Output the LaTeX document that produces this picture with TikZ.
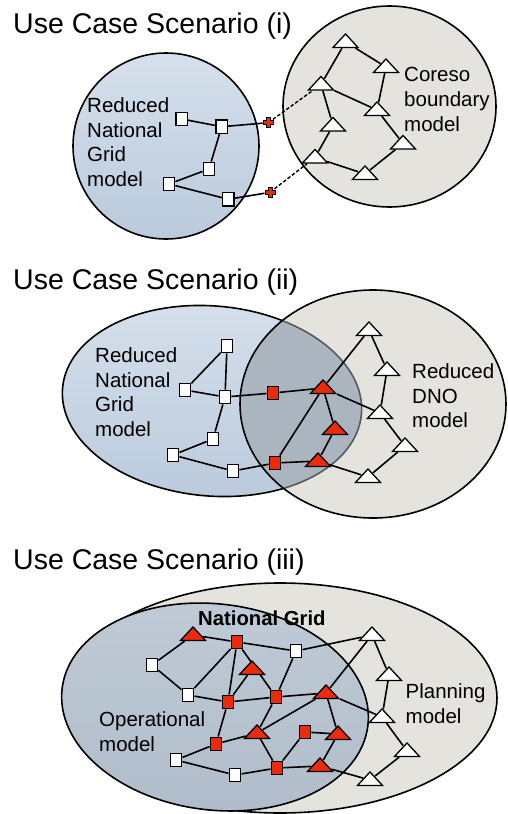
\documentclass[tikz,border=0pt]{standalone}
\usepackage{fontspec}
\setmainfont{Liberation Sans}
\usetikzlibrary{shapes.geometric}
\definecolor{nred}{HTML}{EC2A0C}
\definecolor{blueTop}{HTML}{D6E0EC}
\definecolor{blueBot}{HTML}{BACADC}
\definecolor{greyfill}{HTML}{E4E3DE}
\definecolor{overlapfill}{HTML}{ABB5C0}
\definecolor{deepTop}{HTML}{C0CBD7}
\definecolor{deepBot}{HTML}{B0BCC9}
\pgfdeclarelayer{back}
\pgfdeclarelayer{wires}
\pgfsetlayers{back,wires,main}

\begin{document}
\begin{tikzpicture}[x=1pt, y=-1pt,
    title/.style={anchor=base west, inner sep=0pt,
                  font=\fontsize{28.5}{34}\selectfont},
    lbl/.style={anchor=north west, inner sep=0pt, align=left,
                font=\fontsize{20.5}{24.8}\selectfont},
    bus/.style={draw=black, line width=1.4pt, fill=white, inner sep=0pt,
                minimum width=11.5pt, minimum height=13.5pt},
    rbus/.style={bus, fill=nred},
    tri/.style={isosceles triangle, isosceles triangle stretches,
                shape border rotate=90, draw=black, line width=1.3pt,
                fill=white, inner sep=0pt, minimum width=25pt, minimum height=13.5pt},
    rtri/.style={tri, fill=nred},
    plusbox/.style={circle, inner sep=0pt, minimum size=11pt},
    zone/.style={draw=black, line width=1.6pt},
    link/.style={line width=1.6pt},
    tie/.style={line width=1.4pt, dash pattern=on 3.5pt off 2pt},
  ]
  \useasboundingbox (0,0) rectangle (507,814);

  % --- model areas ---------------------------------------------------------
  \begin{pgfonlayer}{back}
    \fill[white] (0,0) rectangle (507,814);
    % (i)
    \filldraw[zone, top color=blueTop, bottom color=blueBot] (166,146) circle [radius=93];
    \filldraw[zone, fill=greyfill] (389.5,106.5) ellipse [x radius=106.5, y radius=100.5];
    % (ii)
    \filldraw[zone, top color=blueTop, bottom color=blueBot, rotate around={-5:(212,401)}]
      (212,401) ellipse [x radius=150, y radius=95];
    \fill[greyfill] (373,404) ellipse [x radius=133, y radius=114];
    \begin{scope}
      \clip (373,404) ellipse [x radius=133, y radius=114];
      \fill[overlapfill, rotate around={-5:(212,401)}] (212,401) ellipse [x radius=150, y radius=95];
      \draw[black!65, line width=1.6pt, rotate around={-5:(212,401)}]
        (212,401) ellipse [x radius=150, y radius=95];
    \end{scope}
    \draw[zone] (373,404) ellipse [x radius=133, y radius=114];
    % (iii)
    \filldraw[zone, fill=greyfill] (280,698) ellipse [x radius=217, y radius=115];
    \filldraw[zone, top color=deepTop, bottom color=deepBot, rotate around={-7:(215,707)}]
      (215,707) ellipse [x radius=154, y radius=103];
  \end{pgfonlayer}

  % --- titles and labels ---------------------------------------------------
  \node[title] (ti1) at (13,33)  {Use Case Scenario (i)};
  \node[title] (ti2) at (13,289) {Use Case Scenario (ii)};
  \node[title] (ti3) at (13,569) {Use Case Scenario (iii)};
  \node[lbl] (ng1) at (87,97.3)    {Reduced\\National\\Grid\\model};
  \node[lbl] (cb1) at (404,67.3)   {Coreso\\boundary\\model};
  \node[lbl] (ng2) at (95,347.3)   {Reduced\\National\\Grid\\model};
  \node[lbl] (dn2) at (412,363.3)  {Reduced\\DNO\\model};
  \node[lbl] (op3) at (99,711.8)   {Operational\\model};
  \node[lbl] (pl3) at (405.5,683.3){Planning\\model};
  \node[anchor=base west, inner sep=0pt, font=\fontsize{20.3}{24}\selectfont\bfseries]
    (ng3) at (198,625) {National Grid};

  % --- (i) nodes -----------------------------------------------------------
  \node[bus] (s1) at (181.7,119) {};
  \node[bus] (s2) at (221.7,126.7) {};
  \node[bus] (s3) at (209,169) {};
  \node[bus] (s4) at (169,184) {};
  \node[bus] (s5) at (228.3,199.3) {};
  \node[plusbox] (c1) at (268.3,122.7) {};
  \node[plusbox] (c2) at (270,192.3) {};
  \foreach \c in {c1,c2}
    \filldraw[fill=nred, draw=black, line width=0.7pt] (\c.center) ++(-2,-5) -- ++(4,0)
      -- ++(0,3) -- ++(3,0) -- ++(0,4) -- ++(-3,0) -- ++(0,3) -- ++(-4,0)
      -- ++(0,-3) -- ++(-3,0) -- ++(0,-4) -- ++(3,0) -- cycle;
  \node[tri] (t1) at (345.5,42) {};
  \node[tri] (t2) at (386,67) {};
  \node[tri] (t3) at (321,84.5) {};
  \node[tri] (t4) at (377,110) {};
  \node[tri] (t5) at (333,125.5) {};
  \node[tri] (t6) at (403,143.5) {};
  \node[tri] (t7) at (315,157.5) {};
  \node[tri] (t8) at (365,174) {};

  % --- (ii) nodes ----------------------------------------------------------
  \node[bus]  (a1) at (227,346) {};
  \node[bus]  (a2) at (185,390) {};
  \node[bus]  (a3) at (225,397) {};
  \node[bus]  (a4) at (213,439) {};
  \node[bus]  (a5) at (173,455) {};
  \node[bus]  (a6) at (233,471) {};
  \node[rbus] (r1) at (273,393) {};
  \node[rbus] (r2) at (275,463) {};
  \node[rtri] (rt1) at (323,388) {};
  \node[rtri] (rt2) at (335,429) {};
  \node[rtri] (rt3) at (318,461) {};
  \node[tri]  (w1) at (369,330) {};
  \node[tri]  (w2) at (387,370) {};
  \node[tri]  (w3) at (380,413) {};
  \node[tri]  (w4) at (405,446) {};
  \node[tri]  (w5) at (368,477) {};

  % --- (iii) nodes ---------------------------------------------------------
  \node[bus]  (u1) at (152,665) {};
  \node[bus]  (u2) at (188,695) {};
  \node[bus]  (u3) at (296,651) {};
  \node[bus]  (u4) at (176,760) {};
  \node[bus]  (u5) at (235,775) {};
  \node[rbus] (q1) at (237,642) {};
  \node[rbus] (q2) at (228,702) {};
  \node[rbus] (q3) at (276,697) {};
  \node[rbus] (q4) at (216,744) {};
  \node[rbus] (q5) at (305,732) {};
  \node[rbus] (q6) at (277,768) {};
  \node[rtri] (p1) at (193,635) {};
  \node[rtri] (p2) at (252,669) {};
  \node[rtri] (p3) at (326,693) {};
  \node[rtri] (p4) at (257,733) {};
  \node[rtri] (p5) at (338,734) {};
  \node[rtri] (p6) at (320,766) {};
  \node[tri]  (v1) at (372,635) {};
  \node[tri]  (v2) at (389,675) {};
  \node[tri]  (v3) at (382,717) {};
  \node[tri]  (v4) at (407,751) {};
  \node[tri]  (v5) at (370,780) {};

  % --- lines -----------------------------------------------------------------
  \begin{pgfonlayer}{wires}
    \foreach \a/\b in {s1/s2, s2/c1, s2/s3, s3/s4, s4/s5, s5/c2,
                       t1/t2, t1/t3, t2/t4, t3/t4, t3/t5, t4/t6, t5/t7, t7/t8, t6/t8}
      \draw[link] (\a) -- (\b);
    \draw[tie] (c1) -- (t3);
    \draw[tie] (c2) -- (t7);
    \foreach \a/\b in {a1/a2, a1/a3, a2/a3, a3/a4, a4/a5, a5/a6, a3/r1, a6/r2,
                       r1/rt1, r2/rt3, r2/rt1, rt1/w1, w1/w2, w2/w3, rt1/w3,
                       rt1/rt2, rt2/rt3, rt3/w5, w3/w4, w4/w5}
      \draw[link] (\a) -- (\b);
    \foreach \a/\b in {p1/q1, p1/u1, u1/u2, u2/q1, u2/q2, q1/q2, q1/q3, p2/q2,
                       q1/u3, q2/q3, q3/u3, u3/v1, q3/p3, q3/p4, v1/p3, p3/p4,
                       p3/v3, p3/p5, p5/p6, q5/p5, q5/q6, q6/p6, p6/v5, q2/q4,
                       q4/p4, p4/q6, q4/u4, u4/u5, u5/q6, v1/v2, v2/v3, v3/v4, v4/v5}
      \draw[link] (\a) -- (\b);
  \end{pgfonlayer}
\end{tikzpicture}
\end{document}
